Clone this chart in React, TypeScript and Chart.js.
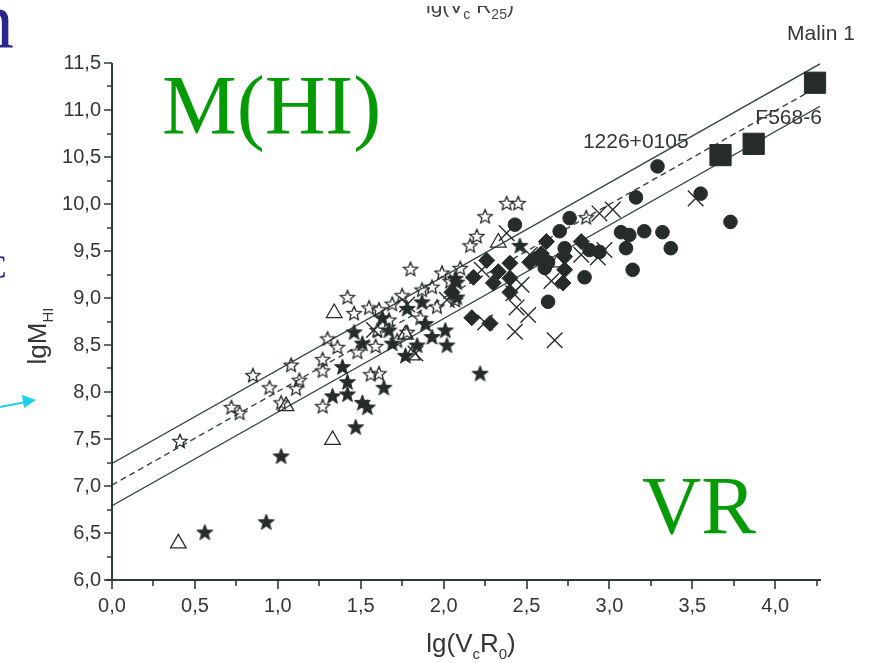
import { useEffect, useRef } from 'react';
import { Chart, registerables } from 'chart.js';

Chart.register(...registerables);

// ---- axes ----
const xMin = 0;
const xMax = 4.27;
const yMin = 6.0;
const yMax = 11.5;
const xTickValues = [0, 0.5, 1.0, 1.5, 2.0, 2.5, 3.0, 3.5, 4.0];
const yTickValues = [6.0, 6.5, 7.0, 7.5, 8.0, 8.5, 9.0, 9.5, 10.0, 10.5, 11.0, 11.5];
const minorStep = 0.25;

// ---- series (x = lg(VcR0), y = lgM_HI) ----
const openStars = [
  [0.41, 7.48], [0.72, 7.84], [0.77, 7.78], [0.85, 8.18], [0.95, 8.05], [1.02, 7.89],
  [1.08, 8.29], [1.11, 8.04], [1.13, 8.13], [1.27, 8.35], [1.27, 8.23], [1.27, 7.85],
  [1.30, 8.57], [1.36, 8.48], [1.42, 9.01], [1.46, 8.84], [1.48, 8.43], [1.55, 8.90],
  [1.56, 8.19], [1.59, 8.49], [1.61, 8.88], [1.61, 8.20], [1.69, 8.94], [1.75, 9.03],
  [1.80, 9.31], [1.87, 9.09], [1.96, 8.91], [1.99, 9.27], [1.78, 8.64], [1.60, 8.66],
  [2.16, 9.56], [2.20, 9.66], [2.25, 9.87], [2.38, 10.01], [2.45, 10.01], [2.86, 9.86],
  [1.86, 8.79], [2.07, 8.98], [1.67, 8.77], [2.10, 9.32], [1.93, 9.12], [2.04, 9.18],
  [1.72, 8.55],
];
const filledStars = [
  [0.56, 6.51], [0.93, 6.62], [1.02, 7.32], [1.47, 7.63], [1.42, 7.98], [1.51, 7.89],
  [1.54, 7.84], [1.33, 7.96], [1.42, 8.11], [1.39, 8.27], [1.64, 8.05], [1.51, 8.52],
  [1.69, 8.52], [1.46, 8.64], [1.67, 8.66], [1.63, 8.79], [1.77, 8.39], [1.84, 8.50],
  [2.02, 8.50], [1.93, 8.59], [1.89, 8.73], [1.78, 8.89], [1.87, 8.96], [2.08, 9.17],
  [2.08, 9.01], [2.46, 9.56], [2.22, 8.20], [2.01, 8.66], [2.07, 9.21],
];
const openTriangles = [
  [0.40, 6.39], [1.33, 7.49], [1.34, 8.84], [1.05, 7.85], [1.77, 8.61], [1.81, 8.39],
  [2.33, 9.59], [2.69, 9.38],
];
const filledDiamonds = [
  [2.26, 9.40], [2.18, 9.22], [2.30, 9.16], [2.40, 9.37], [2.40, 9.21], [2.40, 9.06],
  [2.17, 8.79], [2.28, 8.73], [2.62, 9.60], [2.61, 9.38], [2.72, 9.16], [2.83, 9.60],
  [2.73, 9.30], [2.52, 9.38], [2.05, 9.06], [2.73, 9.44], [2.33, 9.28], [2.59, 9.47],
];
const filledCircles = [
  [3.29, 10.40], [3.16, 10.07], [3.55, 10.11], [3.73, 9.81], [2.43, 9.78], [2.76, 9.85],
  [2.70, 9.71], [3.07, 9.70], [3.12, 9.67], [3.21, 9.71], [3.32, 9.70], [3.37, 9.53],
  [3.10, 9.53], [3.14, 9.30], [2.85, 9.22], [2.63, 8.96], [2.94, 9.49], [2.88, 9.51],
  [2.73, 9.53], [2.63, 9.38], [2.61, 9.32], [2.56, 9.42],
];
const crosses = [
  [2.38, 9.69], [2.94, 9.90], [3.02, 9.94], [3.52, 10.06], [2.83, 9.46], [2.93, 9.43],
  [2.97, 9.51], [2.44, 8.90], [2.51, 8.82], [2.43, 8.64], [2.67, 8.55], [2.42, 9.05],
  [2.47, 9.14], [1.83, 8.41], [2.25, 8.74], [2.02, 8.98], [2.52, 9.46], [2.23, 9.30],
  [1.58, 8.66], [1.78, 8.93], [2.65, 9.18],
];
const bigSquares = [[3.67, 10.52], [3.87, 10.64], [4.24, 11.29]];

// ---- regression line and its band ----
const fitX = [0, 4.27];
const upperY = [7.24, 11.49];
const lowerY = [6.79, 11.04];
const midX = [0, 4.2];
const midY = [7.01, 11.19];

// ---- point labels ----
const labelTexts = ['Malin 1', 'F568-6', '1226+0105'];
const labelXs = [4.48, 3.88, 2.84];
const labelYs = [11.74, 10.85, 10.60];
const labelAligns: CanvasTextAlign[] = ['right', 'left', 'left'];

const INK = '#262b2b';
const AXIS = '#2c3b3b';
const TEXT = '#353535';
const SANS = '"Liberation Sans", Arial, sans-serif';
const SERIF = '"Liberation Serif", "Times New Roman", serif';

const fmt = (v: number) => v.toFixed(1).replace('.', ',');
const toPts = (arr: number[][]) => arr.map(([x, y]) => ({ x, y }));

function starCanvas(outer: number, inner: number, filled: boolean, lw: number) {
  const s = Math.ceil(outer * 2 + lw * 2 + 2);
  const c = document.createElement('canvas');
  c.width = s;
  c.height = s;
  const ctx = c.getContext('2d')!;
  ctx.translate(s / 2, s / 2 + outer * 0.1);
  ctx.beginPath();
  for (let i = 0; i < 10; i++) {
    const r = i % 2 === 0 ? outer : inner;
    const a = -Math.PI / 2 + (i * Math.PI) / 5;
    ctx.lineTo(r * Math.cos(a), r * Math.sin(a));
  }
  ctx.closePath();
  if (filled) {
    ctx.fillStyle = INK;
    ctx.fill();
  }
  ctx.strokeStyle = INK;
  ctx.lineWidth = lw;
  ctx.lineJoin = 'miter';
  ctx.stroke();
  return c;
}

function drawSub(ctx: CanvasRenderingContext2D, parts: [string, boolean][], big: number, small: number, x: number, y: number, center: boolean) {
  let total = 0;
  for (const [t, sub] of parts) {
    ctx.font = `${sub ? small : big}px ${SANS}`;
    total += ctx.measureText(t).width;
  }
  let cx = center ? x - total / 2 : x;
  for (const [t, sub] of parts) {
    ctx.font = `${sub ? small : big}px ${SANS}`;
    ctx.fillText(t, cx, sub ? y + big * 0.28 : y);
    cx += ctx.measureText(t).width;
  }
}

const decorPlugin = {
  id: 'decor',
  afterDraw(chart: any) {
    const { ctx, chartArea, scales } = chart;
    const xs = scales.x;
    const ys = scales.y;
    ctx.save();
    // axes
    ctx.strokeStyle = AXIS;
    ctx.lineWidth = 2;
    ctx.beginPath();
    ctx.moveTo(chartArea.left, chartArea.top);
    ctx.lineTo(chartArea.left, chartArea.bottom);
    ctx.moveTo(chartArea.left - 6, chartArea.bottom);
    ctx.lineTo(chartArea.right + 1, chartArea.bottom);
    ctx.stroke();
    ctx.lineWidth = 1.6;
    ctx.beginPath();
    for (let v = yMin; v <= yMax + 1e-6; v += minorStep) {
      const p = Math.round(ys.getPixelForValue(v));
      const major = Math.abs(v * 2 - Math.round(v * 2)) < 1e-6;
      ctx.moveTo(chartArea.left - (major ? 8 : 5), p);
      ctx.lineTo(chartArea.left, p);
    }
    for (let v = xMin; v <= xMax + 1e-6; v += minorStep) {
      const p = Math.round(xs.getPixelForValue(v));
      const major = Math.abs(v * 2 - Math.round(v * 2)) < 1e-6;
      ctx.moveTo(p, chartArea.bottom);
      ctx.lineTo(p, chartArea.bottom + (major ? 9 : 6));
    }
    ctx.stroke();

    // axis titles
    ctx.fillStyle = TEXT;
    ctx.textAlign = 'left';
    ctx.textBaseline = 'alphabetic';
    drawSub(ctx, [['lg(V', false], ['c', true], ['R', false], ['0', true], [')', false]], 26, 15, 471, 652, true);
    ctx.save();
    ctx.translate(46, 336);
    ctx.rotate(-Math.PI / 2);
    drawSub(ctx, [['lgM', false], ['HI', true]], 26, 15, 0, 0, true);
    ctx.restore();

    // point labels
    ctx.font = `21px ${SANS}`;
    ctx.fillStyle = TEXT;
    labelTexts.forEach((t, i) => {
      ctx.textAlign = labelAligns[i];
      ctx.fillText(t, xs.getPixelForValue(labelXs[i]), ys.getPixelForValue(labelYs[i]));
    });

    // big overlay words
    ctx.textAlign = 'left';
    ctx.fillStyle = '#079a07';
    ctx.font = `84px ${SERIF}`;
    ctx.fillText('M(HI)', 162, 134);
    ctx.font = `82px ${SERIF}`;
    ctx.fillText('VR', 642, 533);

    // slide fragments around the figure
    ctx.fillStyle = '#28288e';
    ctx.font = `80px ${SERIF}`;
    ctx.fillText('n', -26, 47);
    ctx.font = `34px ${SERIF}`;
    ctx.fillText('C', -16, 278);
    ctx.save();
    ctx.beginPath();
    ctx.rect(0, 6, 875, 30);
    ctx.clip();
    ctx.fillStyle = '#444';
    drawSub(ctx, [['lg(V', false], ['c', true], [' R', false], ['25', true], [')', false]], 21, 14, 426, 13, false);
    ctx.restore();
    ctx.strokeStyle = '#1fd0ee';
    ctx.fillStyle = '#1fd0ee';
    ctx.lineWidth = 2;
    ctx.beginPath();
    ctx.moveTo(0, 407);
    ctx.lineTo(26, 402);
    ctx.stroke();
    ctx.beginPath();
    ctx.moveTo(36, 400);
    ctx.lineTo(22, 395);
    ctx.lineTo(24, 408);
    ctx.closePath();
    ctx.fill();
    ctx.restore();
  },
};

export default function App() {
  const ref = useRef<HTMLCanvasElement | null>(null);
  useEffect(() => {
    if (!ref.current) return;
    const openStar = starCanvas(7.4, 3.3, false, 1.3);
    const fullStar = starCanvas(8.4, 3.5, true, 1);
    const lineDs = (xs: number[], ys: number[], dash: number[]) => ({
      data: xs.map((x, i) => ({ x, y: ys[i] })),
      showLine: true,
      borderColor: '#334545',
      borderWidth: 1.4,
      borderDash: dash,
      pointRadius: 0,
      fill: false,
      order: 10,
    });
    const chart = new Chart(ref.current, {
      type: 'scatter',
      data: {
        datasets: [
          lineDs(fitX, upperY, []),
          lineDs(fitX, lowerY, []),
          lineDs(midX, midY, [6, 4]),
          { data: toPts(openStars), pointStyle: openStar, pointRadius: 7, clip: false },
          { data: toPts(filledStars), pointStyle: fullStar, pointRadius: 8, clip: false },
          { data: toPts(openTriangles), pointStyle: 'triangle', pointRadius: 9, backgroundColor: 'rgba(0,0,0,0)', borderColor: INK, borderWidth: 1.3, clip: false },
          { data: toPts(filledDiamonds), pointStyle: 'rectRot', pointRadius: 8, backgroundColor: INK, borderColor: INK, borderWidth: 1, clip: false },
          { data: toPts(filledCircles), pointStyle: 'circle', pointRadius: 6.8, backgroundColor: INK, borderColor: INK, borderWidth: 1, clip: false },
          { data: toPts(crosses), pointStyle: 'crossRot', pointRadius: 11, borderColor: INK, borderWidth: 1.4, clip: false },
          { data: toPts(bigSquares), pointStyle: 'rect', pointRadius: 15, backgroundColor: INK, borderColor: INK, borderWidth: 1, clip: false },
        ] as any,
      },
      options: {
        animation: false,
        responsive: false,
        devicePixelRatio: 1,
        layout: { padding: { top: 63, right: 55, left: 0, bottom: 0 } },
        plugins: { legend: { display: false }, tooltip: { enabled: false } },
        scales: {
          x: {
            type: 'linear',
            min: xMin,
            max: xMax,
            grid: { display: false, drawTicks: false },
            border: { display: false },
            afterBuildTicks: (s: any) => {
              s.ticks = xTickValues.map((v) => ({ value: v }));
            },
            afterFit: (s: any) => {
              s.height = 83;
            },
            ticks: {
              autoSkip: false,
              maxRotation: 0,
              padding: 14,
              color: TEXT,
              font: { family: SANS, size: 20 },
              callback: (v: any) => fmt(Number(v)),
            },
          },
          y: {
            type: 'linear',
            min: yMin,
            max: yMax,
            grid: { display: false, drawTicks: false },
            border: { display: false },
            afterBuildTicks: (s: any) => {
              s.ticks = yTickValues.map((v) => ({ value: v }));
            },
            afterFit: (s: any) => {
              s.width = 112;
            },
            ticks: {
              autoSkip: false,
              padding: 11,
              color: TEXT,
              font: { family: SANS, size: 20 },
              callback: (v: any) => fmt(Number(v)),
            },
          },
        },
      } as any,
      plugins: [decorPlugin],
    });
    return () => chart.destroy();
  }, []);
  return (
    <div style={{ position: 'absolute', left: 0, top: 0, width: 875, height: 663, background: '#fff', overflow: 'hidden' }}>
      <canvas ref={ref} width={875} height={663} style={{ position: 'absolute', left: 0, top: 0, width: 875, height: 663 }} />
    </div>
  );
}
